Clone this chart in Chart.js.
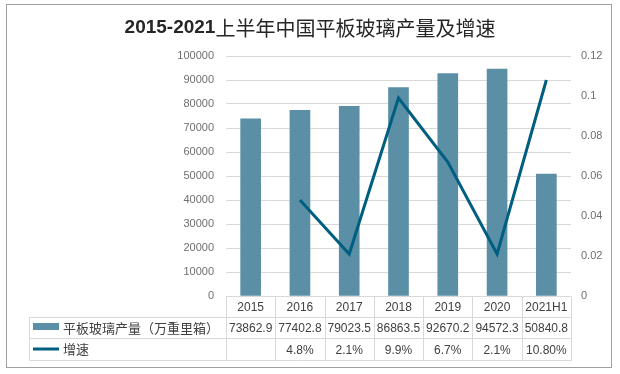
<!DOCTYPE html>
<html>
<head>
<meta charset="utf-8">
<script src="https://cdn.jsdelivr.net/npm/chart.js@4/dist/chart.umd.min.js"></script>
<style>
  html, body { margin: 0; padding: 0; background: #ffffff; }
  #wrap { width: 620px; height: 374px; }
</style>
</head>
<body>
<div id="wrap"><canvas id="c" width="620" height="374"></canvas></div>
<script>
const titleBold = '2015-2021';
const titleRest = '上半年中国平板玻璃产量及增速';
const categories = ['2015', '2016', '2017', '2018', '2019', '2020', '2021H1'];
const outputName = '平板玻璃产量（万重里箱）';
const outputValues = [73862.9, 77402.8, 79023.5, 86863.5, 92670.2, 94572.3, 50840.8];
const growthName = '增速';
const growthValues = [null, 0.048, 0.021, 0.099, 0.067, 0.021, 0.108];
const growthLabels = ['', '4.8%', '2.1%', '9.9%', '6.7%', '2.1%', '10.80%'];
const leftTicks = { min: 0, max: 100000, step: 10000 };
const rightTicks = { min: 0, max: 0.12, step: 0.02 };

const BAR = '#5B8FA6';
const LINE = '#005F80';
const GRID = '#d9d9d9';
const TXT = '#404040';
const TICK = '#6f6f6f';
const LATIN = "'Liberation Sans', Arial, sans-serif";
const CJK = "'Noto Sans CJK SC', 'Liberation Sans', sans-serif";

const frameTable = {
  id: 'frameTable',
  beforeDraw(chart) {
    const ctx = chart.ctx;
    ctx.save();
    ctx.fillStyle = '#ffffff';
    ctx.fillRect(0, 0, chart.width, chart.height);
    ctx.restore();
  },
  afterDraw(chart) {
    const ctx = chart.ctx;
    const x = chart.scales.x;
    const area = chart.chartArea;
    ctx.save();
    // outer frame
    ctx.strokeStyle = '#a0a0a0';
    ctx.lineWidth = 1;
    ctx.strokeRect(6.5, 4.5, 605, 363);

    // title
    ctx.fillStyle = '#262626';
    ctx.textBaseline = 'middle';
    ctx.font = "bold 19px " + LATIN;
    const w1 = ctx.measureText(titleBold).width;
    ctx.font = "20px " + CJK;
    const w2 = ctx.measureText(titleRest).width;
    const start = 310 - (w1 + w2) / 2;
    ctx.font = "bold 19px " + LATIN;
    ctx.textAlign = 'left';
    ctx.fillText(titleBold, start, 28);
    ctx.font = "20px " + CJK;
    ctx.fillText(titleRest, start + w1, 28);

    // data table
    const top = Math.round(area.bottom) + 0.5;
    const r1 = 317.5, r2 = 338.5, r3 = 360.5;
    const tLeft = 29.5;
    const n = categories.length;
    const half = (x.getPixelForValue(1) - x.getPixelForValue(0)) / 2;
    const colEdges = [];
    for (let i = 0; i < n; i++) colEdges.push(x.getPixelForValue(i) - half);
    colEdges.push(x.getPixelForValue(n - 1) + half);

    ctx.strokeStyle = GRID;
    ctx.lineWidth = 1;
    ctx.beginPath();
    [r1, r2, r3].forEach(y => { ctx.moveTo(tLeft, y); ctx.lineTo(Math.round(colEdges[n]) + 0.5, y); });
    ctx.moveTo(tLeft, r1); ctx.lineTo(tLeft, r3);
    colEdges.forEach(cx => {
      const xx = Math.round(cx) + 0.5;
      ctx.moveTo(xx, top); ctx.lineTo(xx, r3);
    });
    ctx.stroke();

    ctx.fillStyle = TXT;
    ctx.textAlign = 'center';
    ctx.textBaseline = 'middle';
    ctx.font = "12px " + LATIN;
    for (let i = 0; i < n; i++) {
      const cx = x.getPixelForValue(i);
      ctx.fillText(categories[i], cx, (top + r1) / 2 + 1);
      ctx.fillText(outputValues[i].toFixed(1), cx, (r1 + r2) / 2 + 1);
      ctx.fillText(growthLabels[i], cx, (r2 + r3) / 2 + 1);
    }

    // legend keys
    ctx.fillStyle = BAR;
    ctx.fillRect(33, 323, 26, 7);
    ctx.strokeStyle = LINE;
    ctx.lineWidth = 3;
    ctx.beginPath();
    ctx.moveTo(33, 349); ctx.lineTo(59, 349);
    ctx.stroke();

    ctx.fillStyle = TXT;
    ctx.textAlign = 'left';
    ctx.font = "13px " + CJK;
    ctx.fillText(outputName, 63, (r1 + r2) / 2);
    ctx.fillText(growthName, 63, (r2 + r3) / 2);
    ctx.restore();
  }
};

new Chart(document.getElementById('c'), {
  data: {
    labels: categories,
    datasets: [
      {
        type: 'line',
        label: growthName,
        data: growthValues,
        yAxisID: 'y1',
        borderColor: LINE,
        backgroundColor: LINE,
        borderWidth: 3,
        pointRadius: 0,
        tension: 0,
        spanGaps: false,
        order: 0
      },
      {
        type: 'bar',
        label: outputName,
        data: outputValues,
        yAxisID: 'y',
        backgroundColor: BAR,
        barThickness: 20,
        order: 1
      }
    ]
  },
  options: {
    responsive: false,
    devicePixelRatio: 1,
    animation: false,
    layout: { padding: { top: 56, bottom: 78, left: 0, right: 0 } },
    plugins: {
      legend: { display: false },
      title: { display: false },
      tooltip: { enabled: false }
    },
    scales: {
      x: {
        display: false,
        offset: true
      },
      y: {
        position: 'left',
        min: leftTicks.min,
        max: leftTicks.max,
        afterFit(s) { s.width = 226; },
        border: { display: false },
        grid: { color: GRID, drawTicks: false },
        ticks: {
          stepSize: leftTicks.step,
          padding: 12,
          color: TICK,
          font: { size: 11, family: LATIN },
          callback: v => String(v)
        }
      },
      y1: {
        position: 'right',
        min: rightTicks.min,
        max: rightTicks.max,
        afterFit(s) { s.width = 49; },
        border: { display: false },
        grid: { display: false, drawTicks: false },
        ticks: {
          stepSize: rightTicks.step,
          padding: 10,
          color: TICK,
          font: { size: 11, family: LATIN },
          callback: v => String(parseFloat(Number(v).toFixed(2)))
        }
      }
    }
  },
  plugins: [frameTable]
});
</script>
</body>
</html>
